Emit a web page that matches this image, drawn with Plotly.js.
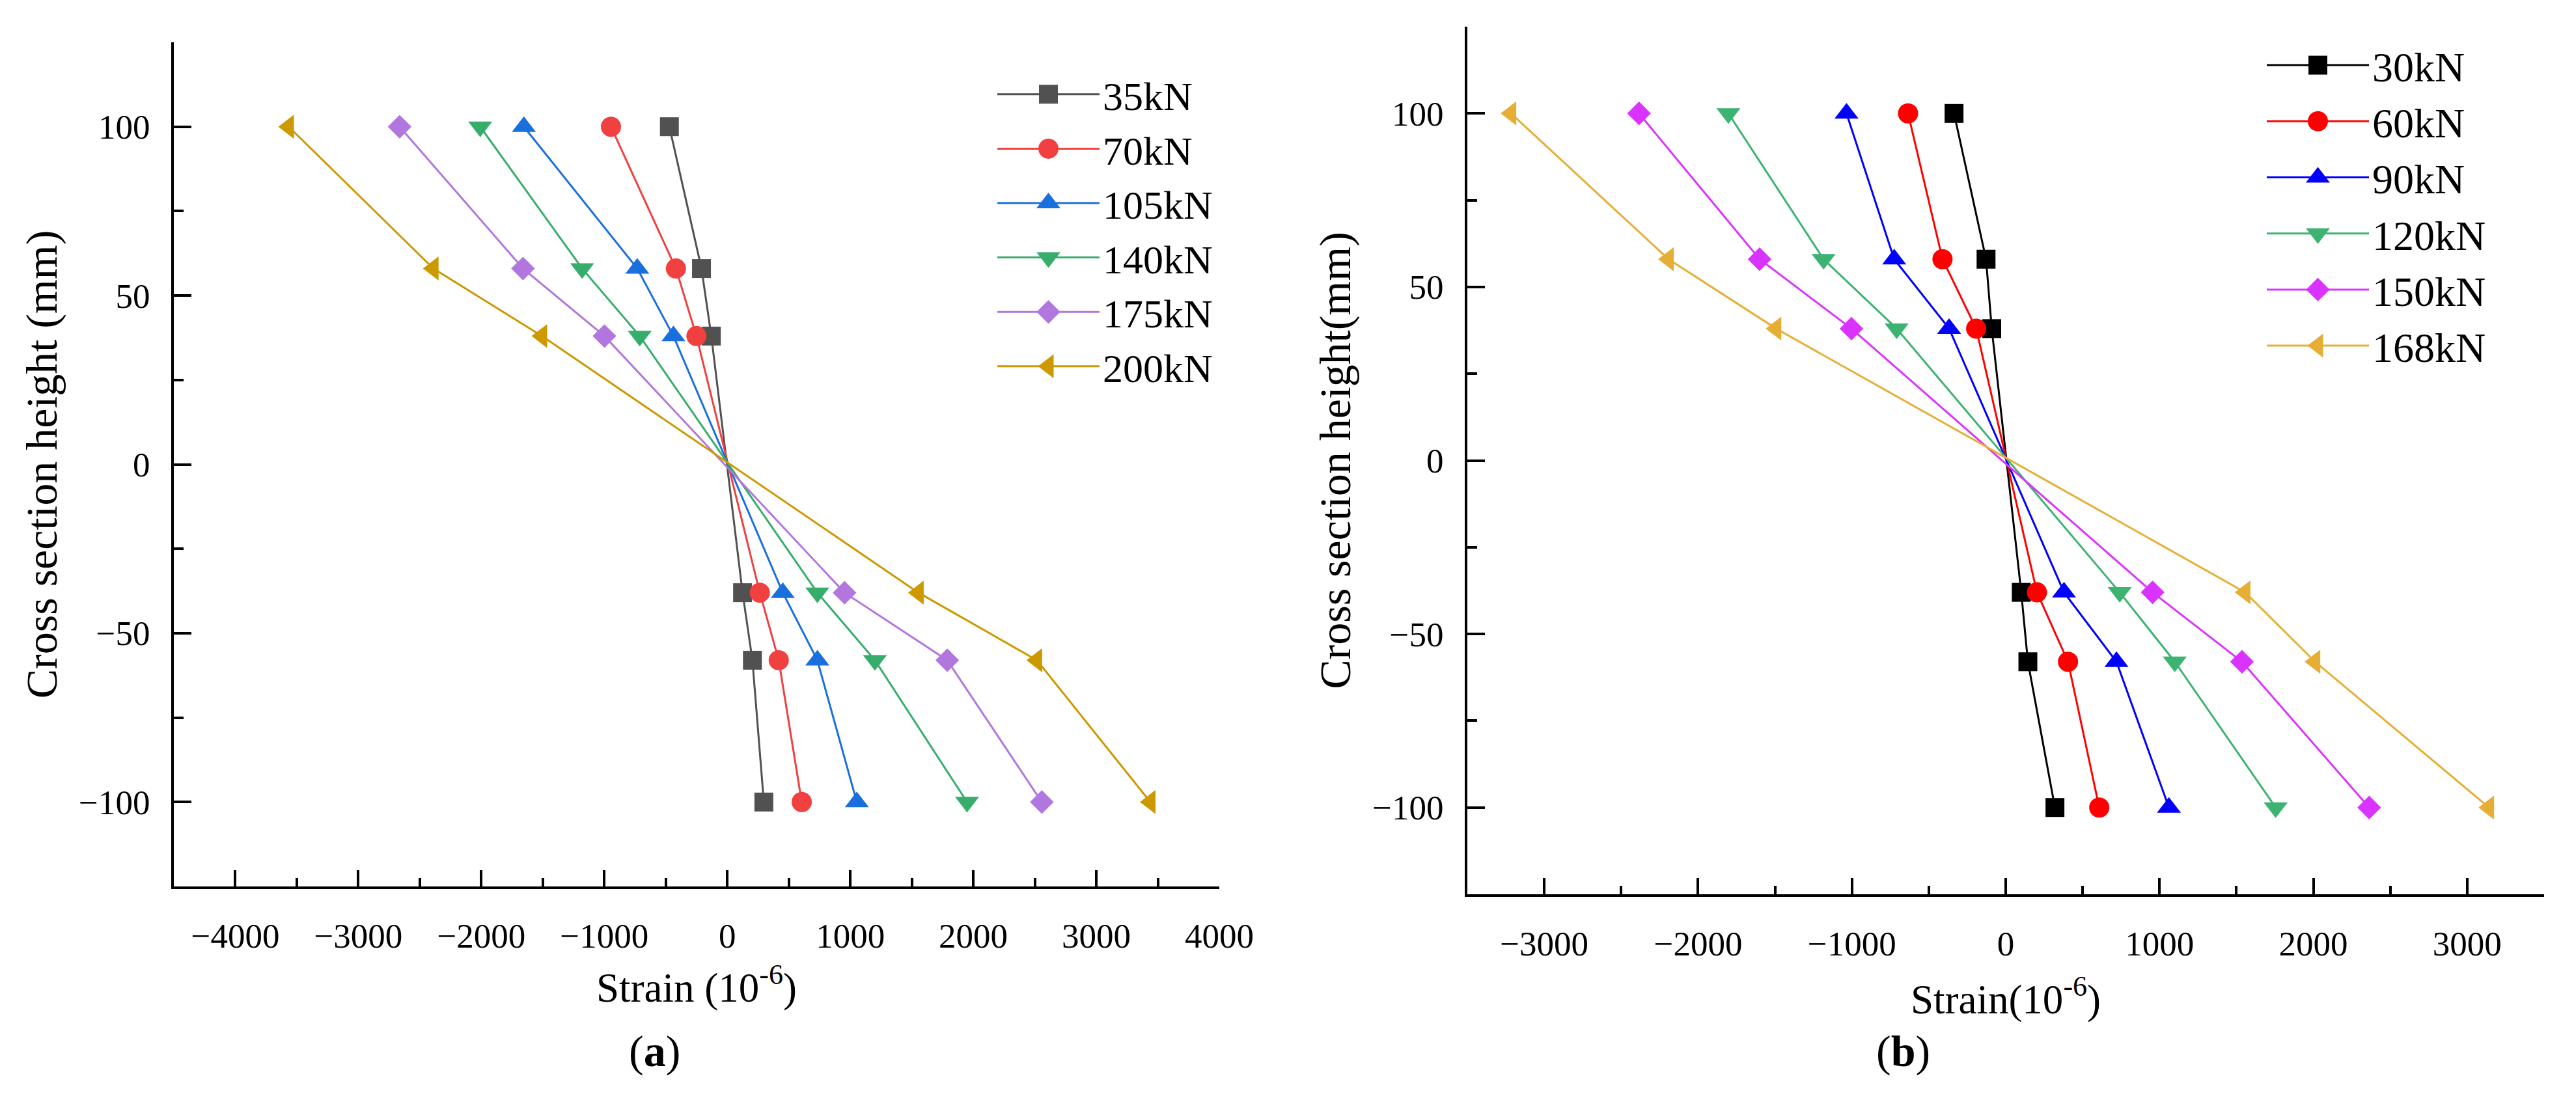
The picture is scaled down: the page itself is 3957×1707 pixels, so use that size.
<!DOCTYPE html>
<html>
<head>
<meta charset="utf-8">
<script src="https://cdn.plot.ly/plotly-3.0.1.min.js"></script>
<style>
  html, body { margin: 0; padding: 0; background: #fff; }
  #chart { width: 3957px; height: 1707px; }
</style>
</head>
<body>
<div id="chart"></div>
<script>
// section heights (mm) of the strain gauges
const heights = [100, 58, 38, -38, -58, -100];

// panel (a)
const loadsA = ['35kN', '70kN', '105kN', '140kN', '175kN', '200kN'];
const strainA35 = [-471, -210, -130, 124, 204, 297];
const strainA70 = [-946, -418, -251, 264, 418, 605];
const strainA105 = [-1654, -732, -438, 451, 732, 1053];
const strainA140 = [-2009, -1180, -712, 732, 1200, 1949];
const strainA175 = [-2664, -1661, -999, 953, 1788, 2557];
const strainA200 = [-3566, -2390, -1507, 1554, 2517, 3439];

// panel (b)
const loadsB = ['30kN', '60kN', '90kN', '120kN', '150kN', '168kN'];
const strainB30 = [-336, -128, -91, 101, 144, 320];
const strainB60 = [-635, -411, -192, 203, 405, 608];
const strainB90 = [-1035, -725, -368, 379, 720, 1061];
const strainB120 = [-1803, -1184, -709, 741, 1099, 1755];
const strainB150 = [-2384, -1600, -1003, 955, 1536, 2363];
const strainB168 = [-3216, -2192, -1493, 1557, 2011, 3141];

const symbols = ['square', 'circle', 'triangle-up', 'triangle-down', 'diamond', 'triangle-left'];
const symbolSizes = [29, 31, 32, 32, 28, 32];
const colorsA = ['#515151', '#f14040', '#1a6fdf', '#37ad6b', '#b177de', '#cc9900'];
const colorsB = ['#000000', '#ff0000', '#0000ff', '#3cb371', '#db33ff', '#e6ae34'];

const FONT = 'Liberation Serif, Times New Roman, serif';
const W = 3957, H = 1707;

function makeTraces(series, names, colors, xa, ya, legend) {
    return series.map((s, i) => ({
        x: s,
        y: heights,
        name: names[i],
        type: 'scatter',
        mode: 'lines+markers',
        xaxis: xa,
        yaxis: ya,
        legend: legend,
        line: { color: colors[i], width: 3 },
        marker: { symbol: symbols[i], color: colors[i], size: symbolSizes[i] }
    }));
}

const traces = [].concat(
    makeTraces([strainA35, strainA70, strainA105, strainA140, strainA175, strainA200],
        loadsA, colorsA, 'x', 'y', 'legend'),
    makeTraces([strainB30, strainB60, strainB90, strainB120, strainB150, strainB168],
        loadsB, colorsB, 'x2', 'y2', 'legend2')
);

function xAxis(domain, range, anchor, text, standoff) {
    return {
        domain: domain,
        range: range,
        anchor: anchor,
        dtick: 1000,
        tick0: 0,
        ticks: 'inside',
        ticklen: 25,
        tickwidth: 4,
        tickcolor: '#000',
        minor: { dtick: 500, ticks: 'inside', ticklen: 13, tickwidth: 4, tickcolor: '#000' },
        showline: true,
        linewidth: 4,
        linecolor: '#000',
        showgrid: false,
        zeroline: false,
        ticklabelstandoff: 26,
        tickfont: { family: FONT, size: 53, color: '#000' },
        title: { text: text, font: { family: FONT, size: 63, color: '#000' }, standoff: standoff }
    };
}

function yAxis(domain, anchor, text) {
    return {
        domain: domain,
        range: [-125, 125],
        anchor: anchor,
        dtick: 50,
        tick0: 0,
        ticks: 'inside',
        ticklen: 27,
        tickwidth: 4,
        tickcolor: '#000',
        minor: { dtick: 25, ticks: 'inside', ticklen: 15, tickwidth: 4, tickcolor: '#000' },
        showline: true,
        linewidth: 4,
        linecolor: '#000',
        showgrid: false,
        zeroline: false,
        ticklabelstandoff: 22,
        tickfont: { family: FONT, size: 53, color: '#000' },
        title: { text: text, font: { family: FONT, size: 68, color: '#000' }, standoff: 12 }
    };
}

function legendBox(x, top, size) {
    return {
        x: x / W,
        y: 1 - top / H,
        xanchor: 'left',
        yanchor: 'top',
        bgcolor: 'rgba(0,0,0,0)',
        borderwidth: 0,
        itemwidth: 157,
        valign: 'middle',
        tracegroupgap: 0,
        font: { family: FONT, size: size, color: '#000' }
    };
}

const layout = {
    width: W,
    height: H,
    margin: { l: 0, r: 0, t: 0, b: 0 },
    paper_bgcolor: '#fff',
    plot_bgcolor: '#fff',
    showlegend: true,
    xaxis: xAxis([267 / W, 1873 / W], [-4500, 4000], 'y', 'Strain (10<sup>-6</sup>)', 30),
    yaxis: yAxis([1 - 1362 / H, 1 - 65 / H], 'x', 'Cross section height (mm)'),
    xaxis2: xAxis([2254 / W, 3908 / W], [-3500, 3500], 'y2', 'Strain(10<sup>-6</sup>)', 36),
    yaxis2: yAxis([1 - 1374 / H, 1 - 41 / H], 'x2', 'Cross section height(mm)'),
    legend: legendBox(1527, 98, 62),
    legend2: legendBox(3477, 52, 64),
    annotations: [
        { text: '(<b>a</b>)', x: 964 / W, y: 1 - 1655 / H, xref: 'paper', yref: 'paper',
          showarrow: false, font: { family: FONT, size: 68, color: '#000' } },
        { text: '(<b>b</b>)', x: 2967 / W, y: 1 - 1655 / H, xref: 'paper', yref: 'paper',
          showarrow: false, font: { family: FONT, size: 68, color: '#000' } }
    ]
};

Plotly.newPlot('chart', traces, layout, { displayModeBar: false, staticPlot: true }).then(gd => {
    // plotly caps legend symbols at 16px; grow them to the size used on the plot
    gd.querySelectorAll('.legendpoints path.scatterpts').forEach(p => {
        const item = p.closest('.traces');
        const d = item && item.__data__;
        const tr = d && d[0] && d[0].trace;
        if (!tr) return;
        const k = tr.marker.size / 16;
        p.setAttribute('transform', (p.getAttribute('transform') || '') + ' scale(' + k + ')');
    });
});
</script>
</body>
</html>
